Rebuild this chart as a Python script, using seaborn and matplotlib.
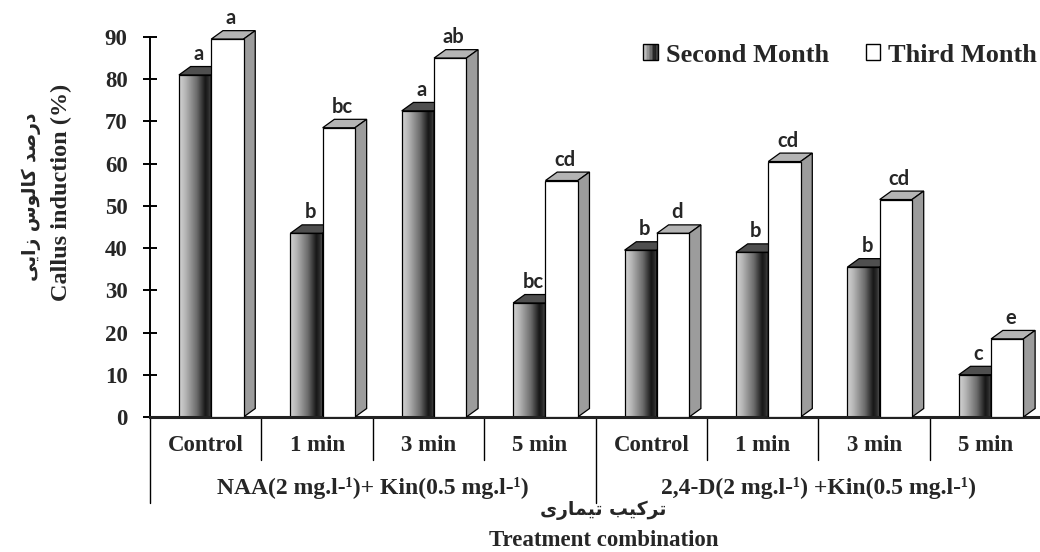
import numpy as np
import pandas as pd
import seaborn as sns
import matplotlib.pyplot as plt
import matplotlib.transforms as mtransforms
from matplotlib.patches import Polygon, Rectangle, Patch
from matplotlib.colors import LinearSegmentedColormap
from matplotlib.legend_handler import HandlerBase

# Data
treatments = ['Control', '1 min', '3 min', '5 min', 'Control', '1 min', '3 min', '5 min']
groups = ['NAA(2 mg.l-\u00b9)+ Kin(0.5 mg.l-\u00b9)', '2,4-D(2 mg.l-\u00b9) +Kin(0.5 mg.l-\u00b9)']
months = ['Second Month', 'Third Month']
second_month = [81, 43.5, 72.5, 27, 39.5, 39, 35.5, 10]
third_month = [89.5, 68.5, 85, 56, 43.5, 60.5, 51.5, 18.5]
second_letters = ['a', 'b', 'a', 'bc', 'b', 'b', 'b', 'c']
third_letters = ['a', 'bc', 'ab', 'cd', 'd', 'cd', 'cd', 'e']

# Persian labels, written in shaped (presentation) forms and visual order
# "درصد کالوس زایی" and "ترکیب تیماری"
ylabel_fa = ''.join(reversed([
    '\uFEA9', '\uFEAD', '\uFEBB', '\uFEAA', ' ',
    '\uFB90', '\uFE8E', '\uFEDF', '\uFEEE', '\uFEB1', ' ',
    '\uFEAF', '\uFE8D', '\uFEF3', '\uFBFD']))
xlabel_fa = ''.join(reversed([
    '\uFE97', '\uFEAE', '\uFB90', '\uFEF4', '\uFE90', ' ',
    '\uFE97', '\uFEF4', '\uFEE4', '\uFE8E', '\uFEAD', '\uFBFC']))

sns.set_theme(style='white')
plt.rcParams['font.family'] = ['Liberation Serif', 'DejaVu Sans']
plt.rcParams['font.weight'] = 'bold'

slots = [f'{i}|{t}' for i, t in enumerate(treatments)]
df = pd.DataFrame({
    'slot': slots * 2,
    'month': [months[0]] * len(slots) + [months[1]] * len(slots),
    'value': second_month + third_month,
})

fig = plt.figure(figsize=(10.4, 5.52), dpi=100)
ax = fig.add_axes([0.1442, 0.2446, 0.857, 0.6884])

sns.barplot(data=df, x='slot', y='value', hue='month', order=slots, hue_order=months,
            palette=['#777777', 'white'], width=0.58, saturation=1, errorbar=None,
            legend=False, ax=ax)

shade = LinearSegmentedColormap.from_list(
    'shade', [(0, '#d4d4d4'), (0.2, '#b5b5b5'), (0.55, '#6a6a6a'),
              (0.8, '#161616'), (0.9, '#2a2a2a'), (1, '#555555')])
grad = np.linspace(0, 1, 256).reshape(1, -1)

DX, DY = 0.105, 2.0  # fake 3D depth
letters = [second_letters, third_letters]

for s, cont in enumerate(ax.containers):
    z = 2 + s
    for j, bar in enumerate(cont):
        bar.set_x(bar.get_x() + 0.05)
        x, w, h = bar.get_x(), bar.get_width(), bar.get_height()
        bar.set_edgecolor('black')
        bar.set_linewidth(0.9)
        bar.set_zorder(z + 0.2)
        if s == 0:
            bar.set_facecolor('none')
            ax.imshow(grad, extent=[x, x + w, 0, h], cmap=shade, aspect='auto',
                      zorder=z, interpolation='bicubic')
            top_c, side_c = '#4f4f4f', '#3a3a3a'
        else:
            bar.set_facecolor('white')
            top_c, side_c = '#b4b4b4', '#9c9c9c'
        top = Polygon([(x, h), (x + w, h), (x + w + DX, h + DY), (x + DX, h + DY)],
                      closed=True, fc=top_c, ec='black', lw=0.9, zorder=z + 0.1, clip_on=False)
        side = Polygon([(x + w, 0), (x + w + DX, DY), (x + w + DX, h + DY), (x + w, h)],
                       closed=True, fc=side_c, ec='black', lw=0.9, zorder=z + 0.1, clip_on=False)
        ax.add_patch(top)
        ax.add_patch(side)
        ax.text(x + w / 2 + DX * 0.3, h + DY + 0.6, letters[s][j], ha='center', va='bottom',
                fontsize=14.5, fontweight='bold', family=['Lato', 'DejaVu Sans'],
                zorder=5, clip_on=False)

ax.set_xlim(-0.5, len(slots) - 0.5)
ax.set_ylim(0, 90)
ax.set_yticks(range(0, 91, 10))
ax.set_xticks(range(len(slots)))
ax.set_xticklabels(treatments)
ax.set_xlabel('')
ax.set_ylabel('')
ax.tick_params(axis='x', length=0, pad=13, labelsize=16.5)
ax.tick_params(axis='y', direction='inout', length=10, width=1.4, color='black',
               labelsize=16.5, pad=11, left=True)
for lab in ax.get_xticklabels() + ax.get_yticklabels():
    lab.set_fontweight('bold')

sns.despine(ax=ax, top=True, right=True)
ax.spines['left'].set_color('black')
ax.spines['left'].set_linewidth(1.4)
ax.spines['bottom'].set_color('#222222')
ax.spines['bottom'].set_linewidth(2.2)

# category separators below the axis
trans = mtransforms.blended_transform_factory(ax.transData, ax.transAxes)
for k in range(len(slots) + 1):
    xb = k - 0.5
    low = -0.226 if k % 4 == 0 else -0.113
    ax.plot([xb, xb], [0, low], transform=trans, color='black', lw=1, clip_on=False)

for g, name in enumerate(groups):
    ax.text(1.5 + 4 * g, -0.187, name, transform=trans, ha='center', va='center',
            fontsize=17, fontweight='bold')

fig.text(603 / 1040, 1 - 510 / 552, xlabel_fa, ha='center', va='center',
         fontsize=13.5, fontweight='bold', family=['DejaVu Sans'])
fig.text(604 / 1040, 1 - 541 / 552, 'Treatment combination', ha='center', va='center',
         fontsize=16.5, fontweight='bold')
fig.text(31 / 1040, 1 - 197 / 552, ylabel_fa, rotation=90, ha='center', va='center',
         fontsize=13.5, fontweight='bold', family=['DejaVu Sans'])
fig.text(61 / 1040, 1 - 192 / 552, 'Callus induction (%)', rotation=90, ha='center',
         va='center', fontsize=17.5, fontweight='bold')


class GradientHandler(HandlerBase):
    def create_artists(self, legend, orig_handle, xdescent, ydescent, width, height,
                       fontsize, trans):
        n = 10
        arts = []
        for i in range(n):
            r = Rectangle((-xdescent + i * width / n, -ydescent), width / n, height,
                          fc=shade((i + 0.5) / n), ec='none', transform=trans)
            arts.append(r)
        arts.append(Rectangle((-xdescent, -ydescent), width, height, fc='none',
                              ec='black', lw=1, transform=trans))
        return arts


handles = [Patch(fc='#777777', ec='black'), Patch(fc='white', ec='black', lw=1)]
fig.legend(handles, months, loc='center', bbox_to_anchor=(840 / 1040, 1 - 55 / 552),
           ncol=2, frameon=False, fontsize=19, handlelength=0.55, handleheight=0.55,
           handletextpad=0.3, columnspacing=1.4, borderpad=0,
           handler_map={handles[0]: GradientHandler()},
           prop={'weight': 'bold', 'size': 19})

fig.savefig('out.png', dpi=100)
